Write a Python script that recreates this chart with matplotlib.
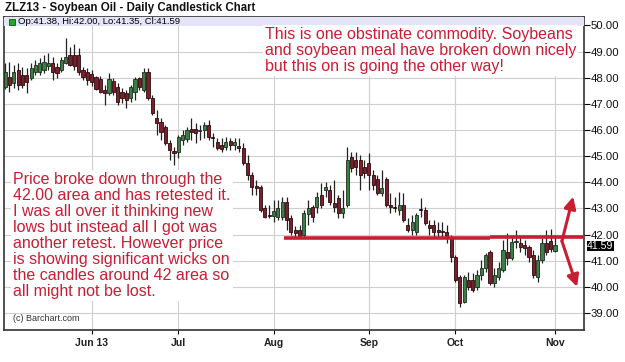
import matplotlib
matplotlib.use('Agg')
import matplotlib.pyplot as plt
from matplotlib.patches import Rectangle
import numpy as np
import pandas as pd

plt.rcParams['font.family'] = ['Liberation Sans', 'DejaVu Sans']

# trading session range and exchange holidays
start_date = '2013-05-03'
end_date = '2013-11-01'
holidays = ['2013-05-27', '2013-07-04', '2013-09-02']
month_labels = ['Jun 13', 'Jul', 'Aug', 'Sep', 'Oct', 'Nov']

opens = [47.65, 48.02, 47.80, 48.28, 48.10, 48.10, 47.99, 48.22, 48.22, 48.29,
         48.45, 48.56, 48.40, 48.29, 48.56, 48.87, 48.87, 48.87, 48.29, 48.22, 48.14,
         48.02, 47.95, 47.53, 47.42, 47.87, 47.64, 47.45, 47.42, 47.22, 47.45,
         47.99, 47.53, 48.22, 47.22, 46.45, 46.30, 46.11, 45.50, 45.20, 45.16, 45.62, 45.65,
         46.05, 46.04, 45.96, 46.00, 46.19, 45.73, 45.54, 45.42, 45.35, 45.58,
         45.42, 45.39, 45.31, 44.74, 44.28, 43.86, 43.82, 43.02, 42.75, 42.71, 42.67, 42.67,
         43.25, 42.63, 42.17, 42.17, 41.98, 42.79, 43.05, 43.05, 43.51, 43.70,
         43.70, 43.21, 43.40, 42.82, 43.13, 44.97, 44.85, 44.85, 44.58, 44.74,
         44.28, 44.12, 43.59, 44.12, 43.13, 43.05, 42.94, 43.13, 42.37, 42.17,
         42.10, 42.98, 42.94, 42.37, 42.37, 42.17, 42.14, 42.10,
         41.87, 41.14, 40.38, 39.42, 40.26, 40.26, 39.99, 40.45, 40.72, 41.33,
         40.15, 40.38, 40.64, 41.33, 41.10, 41.70, 41.68, 41.60, 41.52, 41.22,
         40.38, 41.03, 41.68, 41.75, 41.38]
highs = [48.55, 48.60, 48.48, 48.56, 48.40, 48.37, 48.56, 48.68, 48.75, 48.87,
         48.94, 48.79, 48.56, 48.79, 49.50, 49.17, 49.29, 49.13, 48.40, 48.37, 48.29,
         48.05, 48.05, 47.72, 48.18, 47.99, 47.80, 47.60, 47.53, 47.72, 48.02,
         48.02, 48.37, 48.37, 47.34, 46.76, 46.45, 46.19, 45.62, 45.35, 45.81, 46.00, 46.11,
         46.45, 46.27, 46.19, 46.30, 46.38, 45.88, 45.69, 45.69, 45.73, 45.69,
         45.69, 45.69, 45.50, 45.04, 44.39, 44.09, 43.90, 43.13, 43.13, 43.32, 43.32, 43.44,
         43.44, 42.75, 42.33, 42.37, 42.94, 43.32, 43.13, 43.63, 43.97, 44.01,
         43.90, 44.09, 43.51, 43.70, 45.35, 45.16, 45.16, 45.04, 44.85, 45.12,
         44.47, 44.28, 44.47, 44.20, 43.59, 43.44, 43.63, 43.59, 42.63, 42.75,
         42.82, 43.40, 43.05, 42.56, 42.56, 42.48, 42.48, 42.37,
         41.98, 41.22, 40.45, 40.45, 40.57, 40.53, 40.64, 41.03, 41.29, 41.41,
         40.72, 40.95, 41.79, 42.06, 41.91, 42.17, 41.91, 41.79, 41.60, 41.41,
         41.22, 41.87, 42.17, 42.20, 42.00]
lows = [47.55, 47.45, 47.60, 47.53, 47.60, 47.40, 47.91, 48.10, 48.10, 48.18,
        48.29, 47.91, 47.99, 48.22, 48.52, 48.45, 48.29, 48.10, 47.91, 47.72, 47.68,
        47.53, 47.40, 46.95, 47.34, 47.34, 46.95, 47.03, 46.84, 47.07, 47.15,
        47.53, 47.45, 47.15, 46.57, 45.81, 45.62, 45.42, 44.85, 44.66, 44.93, 45.42, 45.54,
        45.62, 45.50, 45.62, 45.69, 45.62, 45.35, 45.23, 45.16, 45.23, 45.23,
        45.23, 45.16, 44.66, 44.09, 43.51, 43.51, 42.86, 42.63, 42.63, 42.48, 42.56, 42.56,
        42.17, 41.98, 41.90, 41.87, 41.87, 42.37, 42.48, 42.82, 43.02, 43.44,
        43.13, 42.86, 42.63, 42.63, 43.05, 44.39, 44.28, 43.70, 44.16, 43.70,
        43.70, 43.51, 43.47, 43.05, 42.82, 42.86, 42.75, 42.48, 42.10, 41.98,
        41.98, 42.67, 42.37, 41.98, 41.90, 41.90, 41.90, 41.68,
        40.95, 40.19, 39.23, 39.38, 39.88, 39.80, 39.88, 40.26, 40.57, 40.07,
        40.00, 40.26, 40.57, 40.84, 41.03, 41.49, 41.33, 41.22, 40.95, 40.34,
        40.19, 40.91, 41.22, 41.35, 41.35]
closes = [48.20, 47.72, 48.20, 47.72, 47.72, 47.84, 48.37, 48.48, 48.56, 48.60,
          48.56, 48.22, 48.18, 48.68, 48.79, 48.48, 48.45, 48.22, 48.02, 47.91, 47.84,
          47.56, 47.45, 47.42, 47.95, 47.45, 47.07, 47.22, 47.15, 47.64, 47.95,
          47.64, 48.22, 47.22, 46.65, 46.27, 45.92, 45.50, 45.23, 45.12, 45.73, 45.81, 46.00,
          45.92, 45.88, 46.00, 46.19, 45.73, 45.69, 45.31, 45.27, 45.54, 45.42,
          45.54, 45.31, 44.74, 44.28, 43.82, 43.78, 42.94, 42.67, 42.71, 42.90, 43.02, 43.25,
          42.56, 42.10, 42.06, 41.90, 42.82, 43.02, 42.67, 43.44, 43.13, 43.82,
          43.25, 43.05, 42.82, 43.02, 44.85, 44.55, 44.58, 44.28, 44.35, 44.28,
          43.90, 43.59, 43.78, 43.13, 43.05, 43.02, 43.13, 42.56, 42.17, 42.48,
          42.75, 42.94, 42.44, 42.25, 42.10, 42.10, 42.10, 41.90,
          41.14, 40.26, 39.38, 40.38, 39.99, 39.88, 40.45, 40.72, 41.22, 40.15,
          40.45, 40.72, 41.41, 41.10, 41.72, 41.75, 41.54, 41.49, 41.14, 40.45,
          41.03, 41.68, 41.33, 41.45, 41.59]

# support line drawn on the chart (two short segments) and the two arrows
support_start = '2013-08-06'
support_split = '2013-10-11'
support_levels = [41.88, 41.91]
arrow_from = 41.75
arrow_targets = [43.45, 40.0]

red = '#c81e32'

dates = pd.bdate_range(start_date, end_date, freq='C', holidays=holidays)
o = np.array(opens); h = np.array(highs); l = np.array(lows); c = np.array(closes)
x = np.arange(len(c))
up = c >= o

fig = plt.figure(figsize=(6.25, 3.62), dpi=100)
ax = fig.add_axes([4 / 625, 32 / 362, 580 / 625, 313 / 362])

ax.set_xlim(-0.25, 133.7)
ax.set_ylim(38.35, 50.32)

# grid
months = [i for i in range(1, len(dates)) if dates[i].month != dates[i - 1].month]
ax.set_xticks(months)
ax.set_xticklabels(month_labels, fontsize=7.5, fontweight='bold', color='#222222')
ax.set_yticks(np.arange(39, 51))
ax.set_yticklabels(['%.2f' % v for v in np.arange(39, 51)], fontsize=8.2, color='#111111')
ax.yaxis.tick_right()
ax.tick_params(axis='y', direction='out', length=4, width=0.8, pad=1)
ax.tick_params(axis='x', direction='out', length=3, width=0.8, pad=3)
ax.grid(True, color='#cfcfcf', linewidth=0.8)
ax.set_axisbelow(True)
for s in ax.spines.values():
    s.set_color('#333333')
    s.set_linewidth(1.2)

# header strip
ax.add_patch(Rectangle((0, 1 - 9 / 313), 1, 9 / 313, transform=ax.transAxes,
                       facecolor='#e4e4f8', edgecolor='none', zorder=3))
ax.add_patch(Rectangle((0.009, 1 - 8 / 313), 0.010, 6 / 313, transform=ax.transAxes,
                       facecolor='#22aa22', edgecolor='#115511', lw=0.6, zorder=4))
ax.text(0.025, 1 - 4.5 / 313, 'Op:%.2f, Hi:%.2f, Lo:%.2f, Cl:%.2f' % (o[-1], h[-1], l[-1], c[-1]),
        transform=ax.transAxes, fontsize=6.8, va='center', ha='left', zorder=4)

# candles
ax.vlines(x, l, h, color='#222222', linewidth=0.9, zorder=4)
body_lo = np.minimum(o, c)
body_h = np.maximum(np.abs(c - o), 0.04)
ax.bar(x[up], body_h[up], bottom=body_lo[up], width=0.72, color='#3c7d48',
       edgecolor='#1c2e1c', linewidth=0.6, zorder=5)
ax.bar(x[~up], body_h[~up], bottom=body_lo[~up], width=0.72, color='#7a1f2b',
       edgecolor='#2a0a0e', linewidth=0.6, zorder=5)

# support line
i0 = dates.get_loc(pd.Timestamp(support_start)) - 0.5
i1 = dates.get_loc(pd.Timestamp(support_split))
ax.plot([i0, i1], [support_levels[0]] * 2, color=red, lw=2.6, zorder=6, solid_capstyle='butt')
ax.plot([i1, 133.7], [support_levels[1]] * 2, color=red, lw=2.6, zorder=6, solid_capstyle='butt')

# arrows
for tgt, dx in zip(arrow_targets, [2.6, 3.5]):
    ax.annotate('', xy=(x[-1] + 1.6 + dx, tgt), xytext=(x[-1] + 1.6, arrow_from),
                annotation_clip=False,
                arrowprops=dict(arrowstyle='-|>,head_length=0.7,head_width=0.35',
                                color=red, lw=2.2, shrinkA=0, shrinkB=0), zorder=7)

# last price tag
ax.text(1.005, c[-1] - 0.03, '%.2f' % c[-1], transform=ax.get_yaxis_transform(),
        fontsize=7.6, color='white', va='center', ha='left', zorder=8, clip_on=False,
        bbox=dict(boxstyle='square,pad=0.03', facecolor='black', edgecolor='none'))

# commentary
ax.text(0.450, 0.968,
        'This is one obstinate commodity. Soybeans\nand soybean meal have broken down nicely\n'
        'but this on is going the other way!',
        transform=ax.transAxes, fontsize=11.5, color=red, va='top', ha='left',
        linespacing=1.08, zorder=6,
        bbox=dict(boxstyle='square,pad=0.12', facecolor='white', edgecolor='none'))
ax.text(0.016, 0.505,
        'Price broke down through the\n42.00 area and has retested it.\n'
        'I was all over it thinking new\nlows but instead all I got was\n'
        'another retest. However price\nis showing significant wicks on\n'
        'the candles around 42 area so\nall might not be lost.',
        transform=ax.transAxes, fontsize=11.5, color=red, va='top', ha='left',
        linespacing=1.08, zorder=6,
        bbox=dict(boxstyle='square,pad=0.12', facecolor='white', edgecolor='none'))
ax.text(0.016, 0.038, '(c) Barchart.com', transform=ax.transAxes, fontsize=6.5,
        color='#333333', va='center', ha='left', zorder=7)

fig.text(5 / 625, 1 - 8 / 362, 'ZLZ13 - Soybean Oil - Daily Candlestick Chart',
         fontsize=8.3, fontweight='bold', va='center', ha='left', color='#111111')

fig.savefig('out.png', dpi=100)
